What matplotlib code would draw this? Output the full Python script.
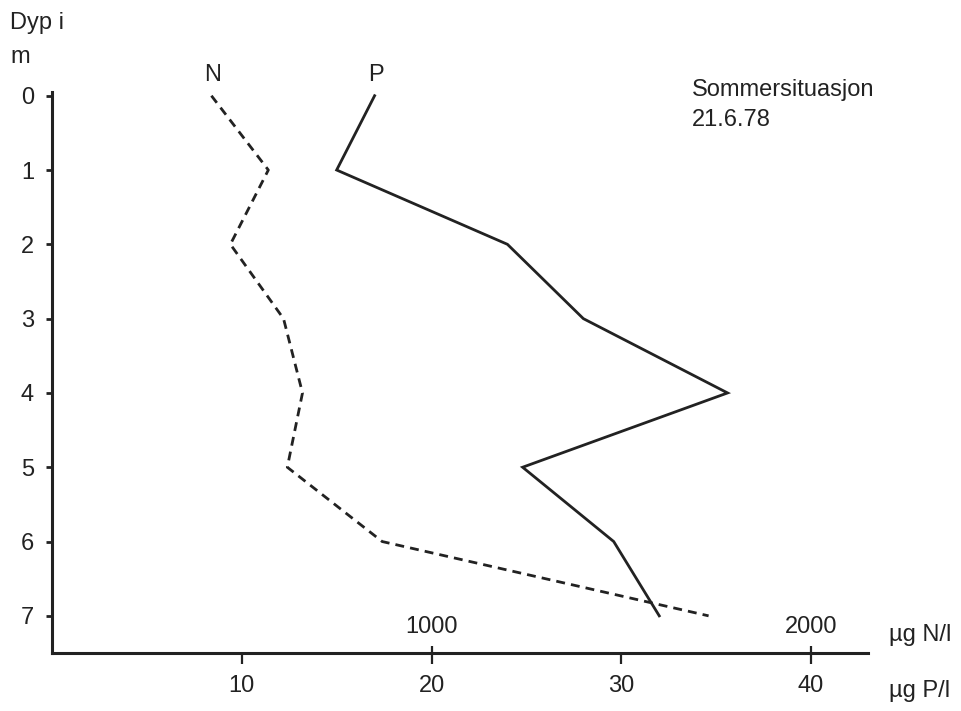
import matplotlib
matplotlib.use("Agg")
import matplotlib.pyplot as plt

plt.rcParams['font.family'] = ['Liberation Sans', 'DejaVu Sans']

# Data
depth_m = [0, 1, 2, 3, 4, 5, 6, 7]
nitrogen_ug_l = [420, 570, 470, 610, 660, 620, 870, 1730]     # µg N/l
phosphorus_ug_l = [17.0, 15.0, 24.0, 28.0, 35.6, 24.8, 29.6, 32.0]  # µg P/l
p_ticks = [10, 20, 30, 40]
n_ticks = [1000, 2000]
n_per_p = 50  # 1000 µg N/l aligned with 20 µg P/l

ink = '#222222'
fs = 17

fig = plt.figure(figsize=(9.61, 7.11), dpi=100)
ax = fig.add_axes([52/961, 1-653/711, (868-52)/961, (653-92)/711])

n_in_p_units = [n / n_per_p for n in nitrogen_ug_l]
ax.plot(n_in_p_units, depth_m, color=ink, lw=2.0, linestyle=(0, (3.2, 2.2)))
ax.plot(phosphorus_ug_l, depth_m, color=ink, lw=2.0, solid_joinstyle='miter')

ax.set_xlim(0, 43)
ax.set_ylim(7.5, -0.05)

for s in ['top', 'right']:
    ax.spines[s].set_visible(False)
for s in ['left', 'bottom']:
    ax.spines[s].set_linewidth(2.2)
    ax.spines[s].set_color(ink)

ax.set_yticks(depth_m)
ax.set_yticklabels([str(d) for d in depth_m])
ax.tick_params(axis='y', direction='out', length=4, width=2, pad=9,
               labelsize=fs, colors=ink)
ax.set_xticks(p_ticks)
ax.set_xticklabels([str(t) for t in p_ticks])
ax.tick_params(axis='x', direction='out', length=8, width=1.6, pad=8,
               labelsize=fs, colors=ink)

secax = ax.secondary_xaxis('top', functions=(lambda p: p * n_per_p,
                                             lambda n: n / n_per_p))
secax.set_location(0.0)
secax.set_xticks(n_ticks)
secax.set_xticklabels([str(t) for t in n_ticks])
secax.tick_params(axis='x', direction='out', length=5, width=1.6, pad=6,
                  labelsize=fs, colors=ink)
secax.spines['top'].set_visible(False)

# Texts
fig.text(10/961, 1-29/711, 'Dyp i', fontsize=fs, color=ink, va='baseline')
fig.text(10/961, 1-63/711, 'm', fontsize=fs, color=ink, va='baseline')
fig.text(213/961, 1-81/711, 'N', fontsize=fs, color=ink, ha='center', va='baseline')
fig.text(376/961, 1-81/711, 'P', fontsize=fs, color=ink, ha='center', va='baseline')
fig.text(692/961, 1-96/711, 'Sommersituasjon', fontsize=fs, color=ink, va='baseline')
fig.text(692/961, 1-126/711, '21.6.78', fontsize=fs, color=ink, va='baseline')
fig.text(889/961, 1-641/711, 'µg N/l', fontsize=fs, color=ink, va='baseline')
fig.text(889/961, 1-697/711, 'µg P/l', fontsize=fs, color=ink, va='baseline')

fig.savefig('out.png', dpi=100)
